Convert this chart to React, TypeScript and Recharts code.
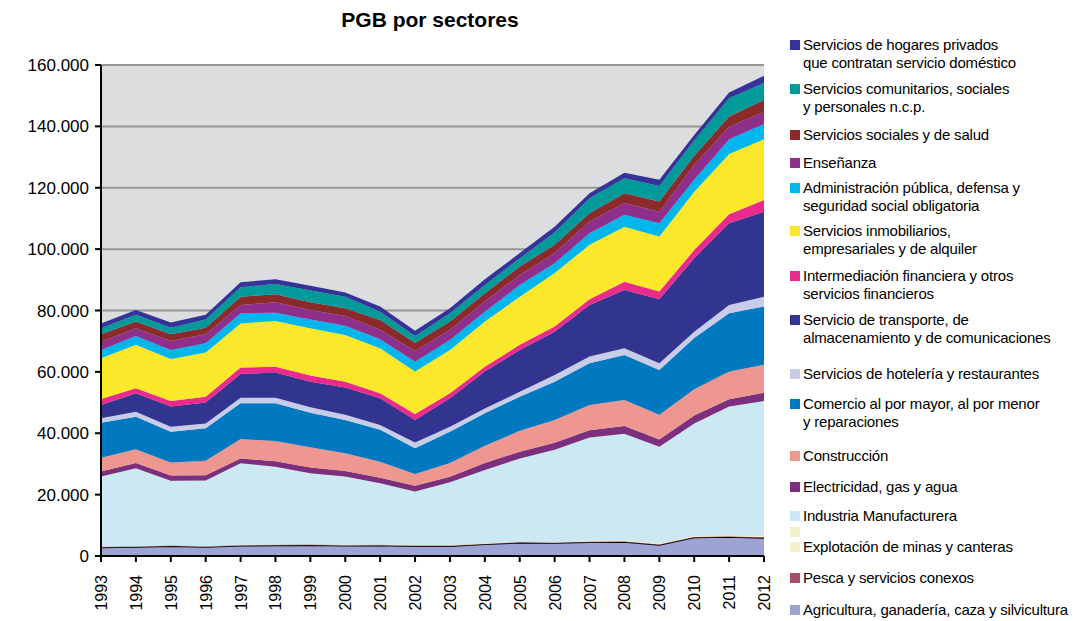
import React from 'react';
import { AreaChart, Area, XAxis, YAxis, CartesianGrid } from 'recharts';

const years = ['1993', '1994', '1995', '1996', '1997', '1998', '1999', '2000', '2001', '2002', '2003', '2004', '2005', '2006', '2007', '2008', '2009', '2010', '2011', '2012'];

const agricultura = [2800, 2900, 3200, 2900, 3300, 3400, 3500, 3300, 3400, 3200, 3200, 3800, 4300, 4200, 4500, 4600, 3600, 6000, 6200, 5900];
const pesca = [120, 130, 140, 150, 160, 150, 150, 140, 140, 130, 130, 140, 150, 150, 160, 160, 150, 170, 180, 180];
const minas = [180, 170, 160, 150, 140, 150, 150, 160, 160, 170, 170, 260, 250, 250, 340, 340, 350, 430, 420, 420];
const industria = [22800, 25400, 21000, 21400, 26600, 25400, 23200, 22300, 20000, 17500, 20500, 23800, 27100, 30000, 33600, 34700, 31500, 36600, 41900, 44000];
const electricidad = [1600, 1700, 1700, 1700, 1600, 1800, 1800, 1800, 1800, 1900, 1800, 2300, 2200, 2300, 2400, 2600, 2400, 2600, 2400, 2700];
const construccion = [4500, 4500, 4300, 4700, 6300, 6600, 6600, 5800, 5200, 3800, 4500, 5600, 6800, 7400, 8200, 8400, 8000, 8500, 9000, 9100];
const comercio = [11400, 10600, 10000, 10600, 11700, 12300, 11300, 10800, 10400, 8400, 10200, 10600, 11100, 12500, 13600, 14700, 14600, 16700, 19000, 19000];
const hoteleria = [1500, 1600, 1600, 1600, 1800, 1800, 1800, 1700, 1600, 1900, 1600, 1600, 1600, 2200, 2200, 2200, 2200, 2100, 2700, 3200];
const transporte = [4300, 6000, 6600, 6800, 7700, 8200, 8300, 8900, 8700, 7300, 9300, 12000, 13600, 14100, 16800, 19000, 20900, 23900, 26600, 27700];
const intermediacion = [2000, 1700, 1800, 1900, 2100, 1900, 2000, 1900, 1600, 2000, 1600, 1600, 1700, 1700, 1900, 2700, 2500, 2700, 3000, 3800];
const inmobiliarios = [13200, 14100, 13700, 14400, 14400, 14900, 15400, 15200, 14700, 13800, 14100, 14700, 15700, 17400, 17700, 17900, 17900, 19000, 19600, 19800];
const administracion = [2700, 2900, 2900, 3000, 3300, 2700, 2900, 3000, 2900, 3200, 3300, 3200, 3800, 3200, 3800, 3900, 4300, 3900, 4800, 5000];
const ensenanza = [2700, 2500, 3000, 3000, 2700, 3400, 3100, 3200, 3100, 3500, 3300, 3300, 3300, 3300, 3800, 3800, 3800, 4800, 4100, 4000];
const salud = [2500, 2200, 2200, 2100, 2700, 2600, 2500, 2500, 3200, 2700, 2700, 2700, 2700, 2700, 2700, 3200, 3300, 3000, 3300, 3800];
const comunitarios = [1900, 2200, 2100, 2700, 3100, 3300, 3800, 3800, 2700, 2200, 2700, 2700, 2700, 4000, 4900, 4900, 5100, 5000, 6000, 5500];
const hogares = [1600, 1600, 1700, 1500, 1600, 1600, 1600, 1400, 1700, 1700, 1600, 1900, 1700, 1900, 1600, 1800, 2000, 1800, 1800, 2400];

const yTicks = [0, 20000, 40000, 60000, 80000, 100000, 120000, 140000, 160000];

// bottom of the stack first
const series = [
  { key: 'agricultura', values: agricultura, color: '#9DA3D2', label: ['Agricultura, ganadería, caza y silvicultura'] },
  { key: 'pesca', values: pesca, color: '#A3506F', label: ['Pesca y servicios conexos'] },
  { key: 'minas', values: minas, color: '#F2F2CC', label: ['Explotación de minas y canteras'] },
  { key: 'industria', values: industria, color: '#CCE8F3', label: ['Industria Manufacturera'] },
  { key: 'electricidad', values: electricidad, color: '#7B2F7C', label: ['Electricidad, gas y agua'] },
  { key: 'construccion', values: construccion, color: '#EE9791', label: ['Construcción'] },
  { key: 'comercio', values: comercio, color: '#0079C1', label: ['Comercio al por mayor, al por menor', 'y reparaciones'] },
  { key: 'hoteleria', values: hoteleria, color: '#C9CCE8', label: ['Servicios de hotelería y restaurantes'] },
  { key: 'transporte', values: transporte, color: '#323590', label: ['Servicio de transporte, de', 'almacenamiento y de comunicaciones'] },
  { key: 'intermediacion', values: intermediacion, color: '#EA2A8C', label: ['Intermediación financiera y otros', 'servicios financieros'] },
  { key: 'inmobiliarios', values: inmobiliarios, color: '#FBE82B', label: ['Servicios inmobiliarios,', 'empresariales  y de alquiler'] },
  { key: 'administracion', values: administracion, color: '#00B6EE', label: ['Administración pública, defensa y', 'seguridad social obligatoria'] },
  { key: 'ensenanza', values: ensenanza, color: '#8E2F8C', label: ['Enseñanza'] },
  { key: 'salud', values: salud, color: '#8B2A2A', label: ['Servicios sociales y de salud'] },
  { key: 'comunitarios', values: comunitarios, color: '#009A9A', label: ['Servicios comunitarios, sociales', 'y personales n.c.p.'] },
  { key: 'hogares', values: hogares, color: '#333399', label: ['Servicios de hogares privados', 'que contratan servicio doméstico'] },
];

const data = years.map((year, i) => {
  const row: Record<string, string | number> = { year };
  series.forEach(s => { row[s.key] = s.values[i]; });
  return row;
});

// legend rows, top to bottom (centre of first text line)
const legendTops = [45, 89, 135, 163, 188, 231, 276, 320, 374, 404, 456, 487, 516, 547, 578, 610];

const font = '"Liberation Sans", Arial, sans-serif';

const fmt = (v: number) => String(v).replace(/\B(?=(\d{3})+(?!\d))/g, '.');

const YearTick = (props: any) => {
  const { x, y, payload } = props;
  return (
    <text x={x} y={y} dy={6} transform={`rotate(-90 ${x} ${y})`} textAnchor="end" fontSize={16} fill="#000" fontFamily={font}>
      {payload.value}
    </text>
  );
};

export default function App() {
  const legendItems = [...series].reverse();
  return (
    <div style={{ position: 'absolute', left: 0, top: 0, width: 1081, height: 621, background: '#fff', fontFamily: font }}>
      <div style={{ position: 'absolute', left: 230, width: 400, top: 8, textAlign: 'center', fontWeight: 'bold', fontSize: 21 }}>
        PGB por sectores
      </div>
      <AreaChart width={1081} height={621} data={data} margin={{ top: 65, right: 317, bottom: 0, left: 0 }}>
        <CartesianGrid vertical={false} fill="#DCDDDF" stroke="#969696" strokeWidth={2} />
        <XAxis
          dataKey="year"
          height={65}
          tick={<YearTick />}
          tickSize={6}
          tickMargin={13}
          interval={0}
          axisLine={{ stroke: '#000', strokeWidth: 2 }}
          tickLine={{ stroke: '#000', strokeWidth: 2 }}
        />
        <YAxis
          width={101}
          domain={[0, 160000]}
          ticks={yTicks}
          tickFormatter={fmt}
          tickSize={6}
          tickMargin={6}
          tick={{ fontSize: 17, fill: '#000', fontFamily: font }}
          axisLine={{ stroke: '#000', strokeWidth: 2 }}
          tickLine={{ stroke: '#000', strokeWidth: 2 }}
        />
        {series.map(s => (
          <Area
            key={s.key}
            type="linear"
            dataKey={s.key}
            stackId="1"
            fill={s.color}
            fillOpacity={1}
            stroke={s.key === 'agricultura' ? '#000' : 'none'}
            strokeWidth={s.key === 'agricultura' ? 1.5 : 0}
            dot={false}
            activeDot={false}
            isAnimationActive={false}
          />
        ))}
      </AreaChart>
      {legendItems.map((s, i) => (
        <div key={s.key} style={{ position: 'absolute', left: 790, top: legendTops[i] - 9, fontSize: 15, lineHeight: '18px', color: '#000', whiteSpace: 'nowrap' }}>
          <span style={{ position: 'absolute', left: 0, top: 4, width: 10, height: 10, background: s.color }} />
          {s.key === 'minas' && (
            <span style={{ position: 'absolute', left: 0, top: -11, width: 10, height: 10, background: s.color }} />
          )}
          <div style={{ marginLeft: 13, letterSpacing: '-0.2px' }}>
            {s.label.map((line, j) => <div key={j}>{line}</div>)}
          </div>
        </div>
      ))}
    </div>
  );
}
